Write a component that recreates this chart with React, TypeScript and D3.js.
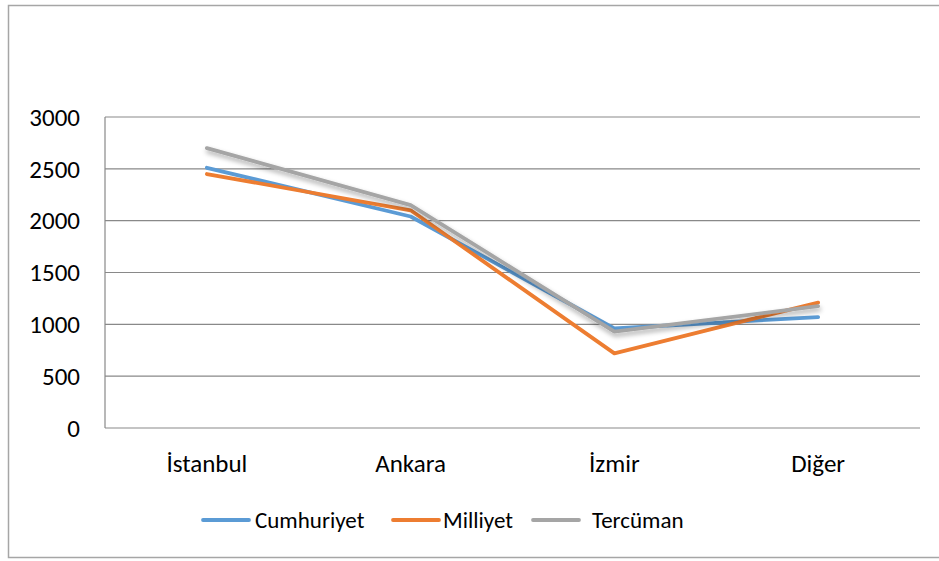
import React from "react";
import * as d3 from "d3";

const categories = ["İstanbul", "Ankara", "İzmir", "Diğer"];
const seriesNames = ["Cumhuriyet", "Milliyet", "Tercüman"];
const cumhuriyet = [2510, 2040, 960, 1070];
const milliyet = [2450, 2100, 720, 1210];
const tercuman = [2700, 2150, 930, 1175];
const yTicks = [0, 500, 1000, 1500, 2000, 2500, 3000];
const colors = ["#5B9BD5", "#ED7D31", "#A5A5A5"];

const W = 939;
const H = 561;
const left = 105;
const right = 920;
const top = 117;
const bottom = 428;
const FONT = "Carlito, Calibri, 'Open Sans', sans-serif";

export default function App() {
  const x = d3.scaleBand<string>().domain(categories).range([left, right]);
  const y = d3.scaleLinear().domain([0, 3000]).range([bottom, top]);
  const data = [cumhuriyet, milliyet, tercuman];
  const line = d3
    .line<number>()
    .x((_, i) => (x(categories[i]) as number) + x.bandwidth() / 2)
    .y((v) => y(v));

  const legendItems = [
    { lx: 203, tx: 255 },
    { lx: 393, tx: 443 },
    { lx: 533, tx: 592 },
  ];
  const legendY = 520;

  return (
    <svg
      width={W}
      height={H}
      style={{ position: "absolute", left: 0, top: 0, background: "#fff" }}
    >
      <defs>
        <filter id="shadow" x="-10%" y="-20%" width="120%" height="160%">
          <feGaussianBlur in="SourceAlpha" stdDeviation="2.5" />
          <feOffset dx="1" dy="3" result="b" />
          <feComponentTransfer>
            <feFuncA type="linear" slope="0.35" />
          </feComponentTransfer>
          <feMerge>
            <feMergeNode />
            <feMergeNode in="SourceGraphic" />
          </feMerge>
        </filter>
      </defs>
      <rect x={8.5} y={5.5} width={940} height={552} fill="#fff" stroke="#A6A6A6" strokeWidth={1.5} />
      {yTicks.map((t) => (
        <g key={t}>
          <line x1={left} x2={right} y1={y(t)} y2={y(t)} stroke="#898989" strokeWidth={1.2} />
          <text
            x={80}
            y={y(t)}
            dy="0.35em"
            textAnchor="end"
            fontFamily={FONT}
            fontSize={25}
            fill="#000"
          >
            {t}
          </text>
        </g>
      ))}
      <line x1={left} x2={left} y1={top} y2={bottom} stroke="#898989" strokeWidth={1.2} />
      {categories.map((c) => (
        <text
          key={c}
          x={(x(c) as number) + x.bandwidth() / 2}
          y={463}
          dy="0.35em"
          textAnchor="middle"
          fontFamily={FONT}
          fontSize={25}
          fill="#000"
        >
          {c}
        </text>
      ))}
      {data.map((d, i) => (
        <path
          key={i}
          d={line(d) as string}
          fill="none"
          stroke={colors[i]}
          strokeWidth={3.8}
          strokeLinejoin="round"
          strokeLinecap="round"
          filter={i === 2 ? "url(#shadow)" : undefined}
        />
      ))}
      {seriesNames.map((s, i) => (
        <g key={s}>
          <line
            x1={legendItems[i].lx}
            x2={legendItems[i].lx + 46}
            y1={legendY}
            y2={legendY}
            stroke={colors[i]}
            strokeWidth={3.8}
            strokeLinecap="round"
          />
          <text
            x={legendItems[i].tx}
            y={legendY}
            dy="0.35em"
            fontFamily={FONT}
            fontSize={23}
            fill="#000"
          >
            {s}
          </text>
        </g>
      ))}
    </svg>
  );
}
